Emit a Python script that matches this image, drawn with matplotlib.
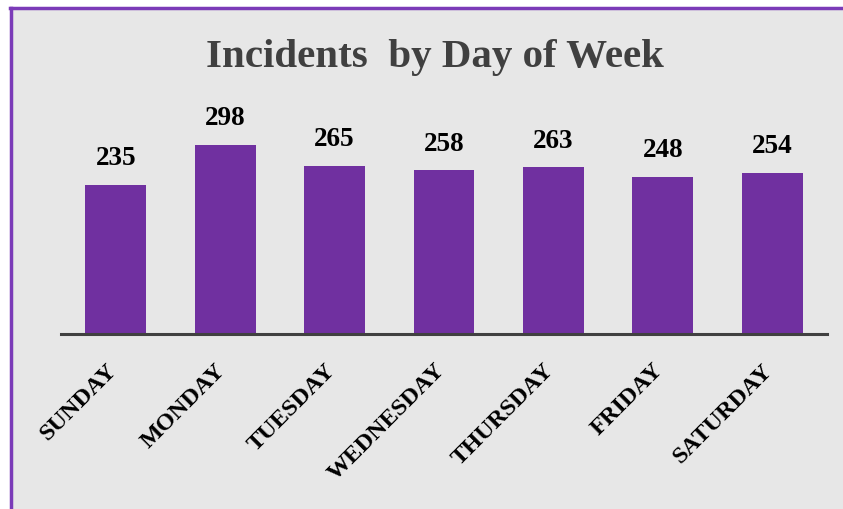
import matplotlib
import numpy as np

matplotlib.use("Agg")
import matplotlib.pyplot as plt
from matplotlib.patches import Rectangle
from matplotlib.lines import Line2D
from matplotlib.transforms import ScaledTranslation


days = ["SUNDAY", "MONDAY", "TUESDAY", "WEDNESDAY", "THURSDAY", "FRIDAY", "SATURDAY"]
incidents = [235, 298, 265, 258, 263, 248, 254]

BAR_COLOR = "#7030A0"
BORDER_COLOR = "#7B3BB8"
BG_COLOR = "#E7E7E7"
TEXT_GRAY = "#404040"

W, H = 843, 510
fig = plt.figure(figsize=(W / 100, H / 100), dpi=100)
fig.patch.set_facecolor("white")

# серый фон и фиолетовая рамка (слева и сверху)
fig.add_artist(Rectangle((10 / W, 0), 1, 1 - 9 / H, transform=fig.transFigure,
                         facecolor=BG_COLOR, edgecolor="none", zorder=0))
fig.add_artist(Line2D([11 / W, 11 / W], [0, 1 - 8.5 / H], transform=fig.transFigure,
                      color=BORDER_COLOR, linewidth=2.5, zorder=1))
fig.add_artist(Line2D([10 / W, 1], [1 - 8.5 / H, 1 - 8.5 / H], transform=fig.transFigure,
                      color=BORDER_COLOR, linewidth=2.5, zorder=1))

# оси: низ на y=335, слева 61, справа 827
left, right = 61 / W, 827 / W
bottom, top = 1 - 335 / H, 1 - 100 / H
ax = fig.add_axes([left, bottom, right - left, top - bottom])
ax.set_facecolor("none")

x = np.arange(len(days))
ax.bar(x, incidents, width=0.555, color=BAR_COLOR, zorder=2)
ax.set_xlim(-0.5, 6.5)
ax.set_ylim(0, 235 / 0.634)

for xi, value in zip(x, incidents):
    ax.annotate(f"{value}", (xi, value), xytext=(0, 10.5), textcoords="offset points",
                ha="center", va="bottom", fontsize=19.5, fontweight="bold",
                family="Liberation Serif", color="black")

for side in ["top", "right", "left"]:
    ax.spines[side].set_visible(False)
ax.spines["bottom"].set_color(TEXT_GRAY)
ax.spines["bottom"].set_linewidth(2.2)
ax.set_yticks([])
ax.set_xticks(x)
ax.set_xticklabels(days, rotation=45, ha="right", va="top", rotation_mode="anchor",
                   fontsize=17.5, fontweight="bold", family="Liberation Serif")
ax.tick_params(axis="x", length=0, pad=18)
shift = ScaledTranslation(-10 / 100, 0, fig.dpi_scale_trans)
for label in ax.get_xticklabels():
    label.set_transform(label.get_transform() + shift)

fig.text(435 / W, 1 - 58 / H, "Incidents  by Day of Week", ha="center", va="center",
         fontsize=29.5, fontweight="bold", family="Liberation Serif", color=TEXT_GRAY)

fig.savefig("out.png", dpi=100)
plt.close(fig)
